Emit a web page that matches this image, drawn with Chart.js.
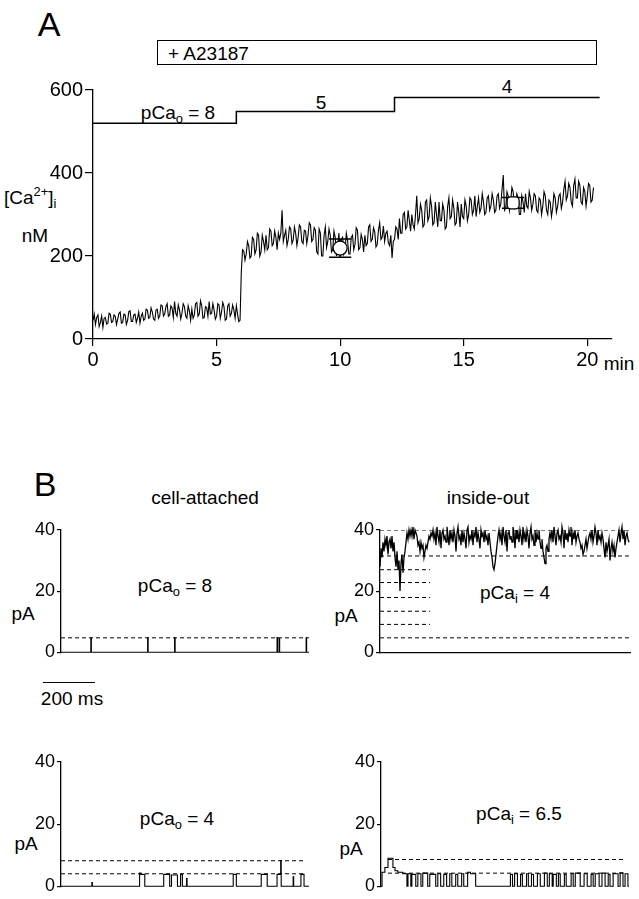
<!DOCTYPE html>
<html>
<head>
<meta charset="utf-8">
<script src="https://cdn.jsdelivr.net/npm/chart.js@4.4.1/dist/chart.umd.min.js"></script>
<style>
  body { margin: 0; background: #fff; width: 639px; height: 899px; position: relative; overflow: hidden;
         font-family: "Liberation Sans", Arial, sans-serif; color: #000; }
  .t { position: absolute; white-space: nowrap; line-height: 1; font-size: 19px; }
  .c { transform: translate(-50%, -50%); }
  .l { transform: translate(0, -50%); }
  sub { font-size: 0.68em; vertical-align: -0.35em; line-height: 0; }
  sup { font-size: 0.68em; vertical-align: 0.55em; line-height: 0; }
  canvas { position: absolute; }
  .box { position: absolute; left: 157px; top: 40px; width: 440px; height: 25px; border: 1.5px solid #000; box-sizing: border-box; }
  .bar { position: absolute; left: 43px; top: 682px; width: 52px; border-top: 1.5px solid #000; }
</style>
</head>
<body>

<div class="t c" style="left:49px;top:24px;font-size:34px">A</div>
<div class="box"></div>
<div class="t l" style="left:168px;top:53px">+ A23187</div>
<div class="t c" style="left:178px;top:112px">pCa<sub>o</sub> = 8</div>
<div class="t c" style="left:321px;top:102px">5</div>
<div class="t c" style="left:507px;top:86px">4</div>
<div class="t l" style="left:4px;top:197px">[Ca<sup>2+</sup>]<sub>i</sub></div>
<div class="t c" style="left:35px;top:235px">nM</div>
<div class="t c" style="left:619px;top:363px">min</div>

<div class="t c" style="left:45px;top:484px;font-size:34px">B</div>
<div class="t c" style="left:205px;top:497px">cell-attached</div>
<div class="t c" style="left:488px;top:497px">inside-out</div>
<div class="t c" style="left:175px;top:585px">pCa<sub>o</sub> = 8</div>
<div class="t c" style="left:23px;top:613px">pA</div>
<div class="t c" style="left:515px;top:592px">pCa<sub>i</sub> = 4</div>
<div class="t c" style="left:346px;top:615px">pA</div>
<div class="bar"></div>
<div class="t c" style="left:72px;top:698px">200 ms</div>
<div class="t c" style="left:177px;top:818px">pCa<sub>o</sub> = 4</div>
<div class="t c" style="left:26px;top:843px">pA</div>
<div class="t c" style="left:519px;top:813px">pCa<sub>i</sub> = 6.5</div>
<div class="t c" style="left:351px;top:848px">pA</div>

<canvas id="cA" width="639" height="310" style="left:0;top:70px"></canvas>
<canvas id="cTL" width="320" height="150" style="left:0;top:515px"></canvas>
<canvas id="cTR" width="319" height="150" style="left:320px;top:515px"></canvas>
<canvas id="cBL" width="320" height="154" style="left:0;top:745px"></canvas>
<canvas id="cBR" width="319" height="154" style="left:320px;top:745px"></canvas>

<script>
// --- panel A: [Ca2+]i (nM), one sample every 0.05 min, one row per minute ---
const caStep = 0.05;
const caTrace = [
  45, 60, 35, 52, 58, 30, 40, 55, 28, 50, 52, 36, 38, 62, 60, 40, 42, 58, 55, 35,
  48, 62, 65, 38, 40, 60, 58, 35, 45, 66, 68, 42, 42, 58, 60, 40, 50, 65, 38, 55,
  62, 45, 48, 72, 70, 50, 52, 75, 65, 48, 45, 70, 72, 50, 55, 82, 80, 55, 60, 78,
  85, 55, 58, 80, 75, 52, 90, 62, 55, 82, 70, 48, 62, 85, 78, 55, 50, 80, 68, 45,
  72, 50, 58, 85, 88, 55, 60, 92, 80, 50, 52, 78, 75, 55, 90, 60, 62, 85, 70, 48,
  55, 85, 82, 50, 65, 88, 78, 45, 48, 80, 85, 55, 62, 82, 70, 50, 80, 60, 42, 45,
  160, 215, 212, 190, 205, 235, 225, 195, 200, 245, 240, 205, 215, 255, 250, 200, 210, 250, 235, 215,
  250, 215, 220, 265, 260, 225, 230, 260, 245, 215, 255, 240, 255, 310, 235, 250, 262, 225, 240, 270,
  265, 230, 238, 270, 255, 225, 245, 275, 270, 235, 230, 262, 260, 230, 250, 280, 275, 235, 240, 268,
  262, 210, 205, 265, 255, 200, 200, 250, 270, 220, 235, 265, 250, 210, 215, 260, 245, 200, 225, 255,
  200, 240, 245, 205, 215, 255, 238, 205, 205, 245, 250, 215, 228, 268, 262, 215, 220, 252, 240, 210,
  250, 225, 230, 270, 275, 235, 240, 268, 258, 222, 228, 262, 280, 240, 245, 272, 235, 255, 260, 232,
  225, 250, 195, 235, 240, 270, 265, 240, 290, 255, 255, 300, 305, 265, 270, 310, 285, 260, 300, 275,
  265, 300, 345, 280, 290, 325, 310, 270, 275, 330, 335, 285, 295, 340, 320, 275, 280, 330, 300, 270,
  330, 285, 285, 325, 310, 265, 270, 320, 340, 290, 295, 335, 315, 275, 280, 330, 305, 270, 325, 295,
  290, 335, 320, 285, 300, 340, 335, 300, 310, 345, 295, 320, 340, 305, 315, 350, 330, 300, 305, 340,
  345, 310, 320, 350, 335, 305, 310, 345, 350, 315, 325, 360, 395, 310, 315, 355, 345, 310, 330, 365,
  355, 315, 320, 350, 340, 300, 300, 345, 330, 305, 350, 320, 315, 355, 340, 310, 325, 350, 345, 310,
  305, 340, 335, 300, 320, 355, 345, 310, 300, 335, 330, 295, 315, 350, 340, 305, 320, 345, 350, 315,
  330, 360, 380, 335, 345, 375, 365, 330, 320, 370, 385, 340, 340, 380, 370, 330, 325, 365, 355, 320,
  345, 375, 370, 330, 335, 365
];
// pCa_o protocol trace (drawn on the nM scale)
const protoTimes = [0, 5.8, 12.2, 20.5];
const protoLevels = [520, 548, 582, 582];
// means +- error
const meanTimes = [10, 17];
const meanValues = [219, 328];
const meanErrors = [22, 13];
const xTicksA = [0, 5, 10, 15, 20];
const yTicksA = [0, 200, 400, 600];

// --- panel B: single-channel records, [ms, pA] = level from that time on ---
const tlSteps = [[0, 0], [115, 4.7], [117, 0], [334, 4.7], [336, 0], [438, 4.7], [440, 0],
  [833, 4.8], [835, 0], [841, 4.5], [843, 0], [945, 4.7], [947, 0], [956, 0]];
const tlDashed = [4.7];

const trStep = 3.84;
const trTrace = [
  28, 34, 31,
  36, 33, 37, 35, 38, 32, 36, 37, 34, 38, 33, 36,
  31, 28, 33, 27, 30, 20, 29, 32, 26, 31, 33,
  36, 39, 37, 40, 38,
  40, 38, 41, 37, 40, 39, 38,
  35, 36, 33, 36, 34, 35, 31, 33, 35, 34,
  36, 38, 37, 39, 38,
  40, 37, 39, 35, 41, 38, 36, 40, 34, 39,
  40, 37, 38, 36, 41, 38, 35, 40, 37, 39,
  36, 40, 38, 33, 39, 41, 37, 38, 35, 40,
  36, 39, 37, 34, 40, 41, 36, 38, 37, 40,
  35, 39, 38, 41, 36, 39, 37, 34, 40, 38,
  39, 36, 40, 37, 38, 35, 39,
  36, 33, 31, 28, 27, 29, 32, 35,
  38, 40, 37, 39, 35, 41, 38, 36, 40, 33,
  39, 40, 37, 38, 36, 41, 39, 34, 40, 37,
  39, 36, 40, 38, 35, 41, 37, 39, 36, 40,
  38, 34, 39, 41, 37, 38, 35, 40, 36, 39,
  37, 40,
  36, 34, 37, 33, 31, 29, 34, 35, 33, 37,
  39, 37, 40, 36, 41, 38, 35, 39, 40, 37,
  38, 36, 41, 39, 34, 40, 37, 39, 36, 40,
  38, 41, 35, 39, 37, 40, 36, 38, 39, 37,
  36, 34, 35, 32, 33, 35, 37, 34, 36, 38,
  39, 37, 40, 36, 38, 41, 39, 35, 40, 37, 38, 36, 39, 37,
  34, 31, 36, 33, 35, 37, 30, 34, 36, 33, 35, 31, 34, 36,
  38, 40, 36, 39, 41, 37, 40, 35, 38, 39, 37, 36
];
const trDashedFull = [40, 31.5, 4.7];
const trDashedShort = [27, 22.8, 17.9, 13.4, 9.1];

const blSteps = [[0, 0], [119, 1.2], [121, 0], [303, 4.2], [308, 3.8], [323, 0], [396, 3.8], [419, 0],
  [426, 3.6], [449, 0], [461, 3.8], [468, 0], [484, 2.5], [486, 0], [664, 3.8], [676, 0],
  [772, 3.8], [795, 0], [833, 3.8], [847, 8.3], [849, 0], [895, 3], [897, 0], [925, 3.8], [937, 0], [956, 0]];
const blDashed = [8.2, 4.0];

const brSteps = [[0, 0], [4, 4.5], [15, 6], [27, 9], [46, 6], [54, 5], [65, 4.5], [84, 4], [100, 0],
  [104, 4], [115, 0], [119, 3.8], [134, 0], [142, 4], [154, 0], [161, 4.2], [180, 0], [188, 3.8], [211, 0],
  [219, 4], [230, 0], [242, 3.8], [253, 0], [265, 4], [273, 0], [288, 3.8], [296, 0], [311, 4], [319, 0],
  [334, 4.5], [345, 4], [365, 0],
  [499, 3.8], [507, 0], [515, 4], [526, 0], [538, 3.8], [545, 0], [561, 4], [568, 0], [580, 3.8], [588, 0],
  [603, 4], [614, 0], [630, 4.2], [641, 0], [649, 4], [660, 0], [664, 3.8], [676, 0], [684, 4], [691, 0],
  [707, 3.8], [714, 0], [733, 4], [741, 0], [749, 4.2], [768, 0], [783, 4], [795, 0], [810, 3.8], [818, 0],
  [826, 4], [841, 0], [852, 4.2], [864, 0], [876, 3.8], [883, 0], [895, 4], [914, 0], [922, 4.3], [933, 0],
  [941, 4], [952, 0], [956, 0]];
const brDashed = [8.6, 4.2];
const yTicksB = [0, 20, 40];

// --- helpers ---
Chart.defaults.font.family = '"Liberation Sans", Arial, sans-serif';
Chart.defaults.color = '#000';
Chart.defaults.borderColor = '#000';
Chart.defaults.animation = false;
Chart.defaults.plugins.legend.display = false;
Chart.defaults.plugins.tooltip.enabled = false;
Chart.defaults.plugins.colors.enabled = false;
Chart.defaults.elements.point.radius = 0;

const INK = '#000';
const sampled = (vals, dt) => vals.map((v, i) => ({ x: i * dt, y: v }));
// records sit on the zero line, so don't let the chart area clip half the stroke
const stepped = steps => ({ data: steps.map(([x, y]) => ({ x, y })), stepped: true, borderWidth: 1.1, borderColor: INK, clip: false });
const dashed = (levels, x0, x1) => levels.map(y => ({ data: [{ x: x0, y }, { x: x1, y }], borderDash: [4, 3], borderWidth: 1, borderColor: INK }));

function errorBars(ts, ms, es, half) {
  const out = [];
  ts.forEach((t, i) => {
    const lo = ms[i] - es[i], hi = ms[i] + es[i];
    out.push({ x: t - half, y: lo }, { x: t + half, y: lo }, { x: t, y: null },
             { x: t, y: lo }, { x: t, y: hi }, { x: t, y: null },
             { x: t - half, y: hi }, { x: t + half, y: hi }, { x: t, y: null });
  });
  return out;
}

function axis(min, max, ticks, size, tickLen, fit) {
  return {
    type: 'linear', min, max,
    afterBuildTicks: s => { s.ticks = ticks.map(v => ({ value: v })); },
    afterFit: fit,
    grid: { drawOnChartArea: false, color: INK, lineWidth: 1.2, tickLength: tickLen },
    border: { color: INK, width: 1.3 },
    ticks: { color: INK, font: { size }, padding: 2, autoSkip: false, maxRotation: 0 }
  };
}

// --- panel A ---
new Chart(document.getElementById('cA'), {
  type: 'line',
  data: {
    datasets: [
      { data: meanTimes.map((t, i) => ({ x: t, y: meanValues[i] })), showLine: false,
        pointRadius: 7, pointStyle: ['circle', 'rectRounded'], pointBackgroundColor: '#fff',
        pointBorderColor: INK, pointBorderWidth: 1.3, borderColor: INK },
      { data: errorBars(meanTimes, meanValues, meanErrors, 0.45), borderWidth: 1.5, borderColor: INK, spanGaps: false },
      { data: sampled(caTrace, caStep), borderWidth: 1.1, borderColor: INK },
      { data: protoTimes.map((t, i) => ({ x: t, y: protoLevels[i] })), stepped: true, borderWidth: 1.5, borderColor: INK }
    ]
  },
  options: {
    responsive: false, devicePixelRatio: 1,
    layout: { padding: { top: 20, right: 27, left: 0, bottom: 0 } },
    scales: {
      x: axis(0, 21, xTicksA, 20, 7, s => { s.height = 41; }),
      y: axis(0, 600, yTicksA, 20, 8, s => { s.width = 93; })
    }
  }
});

// --- panel B ---
function channelChart(id, datasets, yWidth, pad, baseline) {
  const x = baseline
    ? { type: 'linear', min: 0, max: 960, grid: { display: false }, ticks: { display: false },
        border: { color: INK, width: 1.2 }, afterFit: s => { s.height = 0; } }
    : { type: 'linear', min: 0, max: 960, display: false };
  new Chart(document.getElementById(id), {
    type: 'line',
    data: { datasets },
    options: {
      responsive: false, devicePixelRatio: 1,
      layout: { padding: pad },
      scales: { x, y: axis(0, 40, yTicksB, 18, 4, s => { s.width = yWidth; }) }
    }
  });
}

channelChart('cTL', [stepped(tlSteps), ...dashed(tlDashed, 0, 956)],
  61, { top: 15, right: 10, bottom: 7, left: 0 }, false);

channelChart('cTR', [{ data: sampled(trTrace, trStep), borderWidth: 1.3, borderColor: INK, clip: false },
  ...dashed(trDashedFull, 0, 956), ...dashed(trDashedShort, 0, 192)],
  60, { top: 15, right: 9, bottom: 7, left: 0 }, true);

channelChart('cBL', [stepped(blSteps), ...dashed(blDashed, 0, 937)],
  61, { top: 17, right: 10, bottom: 7, left: 0 }, false);

channelChart('cBR', [stepped(brSteps), ...dashed(brDashed, 27, 937)],
  61, { top: 17, right: 9, bottom: 7, left: 0 }, false);
</script>
</body>
</html>
